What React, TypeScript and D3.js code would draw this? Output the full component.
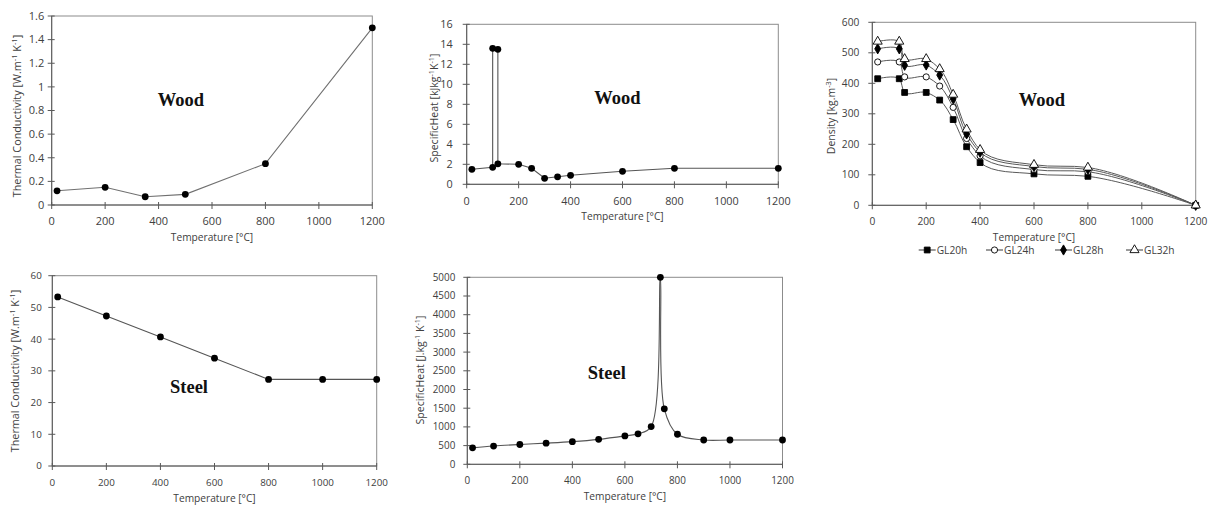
import React from 'react';
import * as d3 from 'd3';

// ---------- DATA ----------
const tempTicks = [0, 200, 400, 600, 800, 1000, 1200];

const woodKTemp = [20, 200, 350, 500, 800, 1200];
const woodKValue = [0.12, 0.15, 0.07, 0.09, 0.35, 1.5];
const woodKTicks = [0, 0.2, 0.4, 0.6, 0.8, 1, 1.2, 1.4, 1.6];

const woodCpTemp = [20, 100, 100, 120, 120, 200, 250, 300, 350, 400, 600, 800, 1200];
const woodCpValue = [1.5, 1.7, 13.6, 13.5, 2.05, 2.0, 1.6, 0.6, 0.75, 0.9, 1.3, 1.6, 1.6];
const woodCpTicks = [0, 2, 4, 6, 8, 10, 12, 14, 16];

const densityTemp = [20, 100, 120, 200, 250, 300, 350, 400, 600, 800, 1200];
const densityGL20h = [415, 415, 370, 370, 345, 281, 192, 140, 103, 95, 0];
const densityGL24h = [470, 470, 421, 421, 391, 321, 219, 162, 117, 110, 0];
const densityGL28h = [513, 513, 459, 460, 427, 349, 234, 174, 127, 118, 0];
const densityGL32h = [537, 537, 480, 480, 447, 363, 249, 182, 133, 124, 0];
const densityNames = ['GL20h', 'GL24h', 'GL28h', 'GL32h'];
const densityTicks = [0, 100, 200, 300, 400, 500, 600];

const steelKTemp = [20, 200, 400, 600, 800, 1000, 1200];
const steelKValue = [53.3, 47.3, 40.7, 34.0, 27.3, 27.3, 27.3];
const steelKTicks = [0, 10, 20, 30, 40, 50, 60];

const steelCpTemp = [20, 100, 200, 300, 400, 500, 600, 650, 700, 735, 750, 800, 900, 1000, 1200];
const steelCpValue = [440, 488, 530, 565, 606, 667, 760, 815, 1008, 5000, 1483, 803, 650, 650, 650];
const steelCpTicks = [0, 500, 1000, 1500, 2000, 2500, 3000, 3500, 4000, 4500, 5000];

// ---------- HELPERS ----------
const FONT = "'Open Sans', sans-serif";
const TXT = '#404040';

type Seg = { t: string; sup?: boolean };

function RotLabel({ x, y, segs, size }: { x: number; y: number; segs: Seg[]; size: number }) {
  const out: any[] = [];
  let up = false;
  segs.forEach((s, i) => {
    let dy = 0;
    if (s.sup && !up) { dy = -size * 0.38; up = true; }
    else if (!s.sup && up) { dy = size * 0.38; up = false; }
    out.push(
      <tspan key={i} dy={dy || undefined} fontSize={s.sup ? size * 0.7 : size}>{s.t}</tspan>
    );
  });
  return (
    <text transform={`translate(${x},${y}) rotate(-90)`} textAnchor="middle" dy="0.35em"
      fontFamily={FONT} fontSize={size} fill={TXT}>{out}</text>
  );
}

type Box = { x0: number; x1: number; y0: number; y1: number };

function Frame({ box, x, y, yTicks, tickSize, yGap, fmt }: any) {
  return (
    <g>
      <rect x={box.x0} y={box.y0} width={box.x1 - box.x0} height={box.y1 - box.y0}
        fill="none" stroke="#8c8c8c" strokeWidth={1} />
      <line x1={box.x0} x2={box.x0} y1={box.y0} y2={box.y1} stroke="#595959" />
      <line x1={box.x0} x2={box.x1} y1={box.y1} y2={box.y1} stroke="#595959" />
      {yTicks.map((t: number) => (
        <g key={'y' + t}>
          <line x1={box.x0 - 4} x2={box.x0 + 3} y1={y(t)} y2={y(t)} stroke="#595959" />
          <text x={box.x0 - yGap} y={y(t)} dy="0.35em" textAnchor="end" fontFamily={FONT}
            fontSize={tickSize} fill={TXT}>{fmt ? fmt(t) : String(t)}</text>
        </g>
      ))}
      {tempTicks.map((t) => (
        <g key={'x' + t}>
          <line x1={x(t)} x2={x(t)} y1={box.y1 - 3} y2={box.y1 + 4} stroke="#595959" />
          <text x={x(t)} y={box.y1 + 16.5} dy="0.35em" textAnchor="middle" fontFamily={FONT}
            fontSize={tickSize} fill={TXT}>{t}</text>
        </g>
      ))}
      <text x={(box.x0 + box.x1) / 2} y={box.y1 + 32} dy="0.35em" textAnchor="middle"
        fontFamily={FONT} fontSize={10.2} fill={TXT}>Temperature [°C]</text>
    </g>
  );
}

function Material({ x, y, text }: { x: number; y: number; text: string }) {
  return (
    <text x={x} y={y} textAnchor="middle" fontFamily="'Liberation Serif', 'Times New Roman', serif"
      fontWeight="bold" fontSize={18.5} fill="#111">{text}</text>
  );
}

function SimplePanel({ box, xs, ys, yDomain, yTicks, tickSize, yGap, fmt, curve, lineColor,
  ylab, ylabX, ylabY, ylabSize, mat, matX, matY }: any) {
  const x = d3.scaleLinear().domain([0, 1200]).range([box.x0, box.x1]);
  const y = d3.scaleLinear().domain(yDomain).range([box.y1, box.y0]);
  const pts: [number, number][] = xs.map((v: number, i: number) => [v, ys[i]]);
  const line = d3.line<[number, number]>().x((d) => x(d[0])).y((d) => y(d[1]));
  if (curve) line.curve(curve);
  return (
    <g>
      <Frame box={box} x={x} y={y} yTicks={yTicks} tickSize={tickSize} yGap={yGap} fmt={fmt} />
      <path d={line(pts) || ''} fill="none" stroke={lineColor} strokeWidth={1.1} />
      {pts.map((p, i) => (
        <circle key={i} cx={x(p[0])} cy={y(p[1])} r={3.4} fill="#000" />
      ))}
      <RotLabel x={ylabX} y={ylabY} segs={ylab} size={ylabSize} />
      <Material x={matX} y={matY} text={mat} />
    </g>
  );
}

function DensityPanel() {
  const box: Box = { x0: 872.3, x1: 1195.7, y0: 22.3, y1: 205.3 };
  const x = d3.scaleLinear().domain([0, 1200]).range([box.x0, box.x1]);
  const y = d3.scaleLinear().domain([0, 600]).range([box.y1, box.y0]);
  const series = [densityGL20h, densityGL24h, densityGL28h, densityGL32h];
  const symbols = [d3.symbolSquare, d3.symbolCircle, d3.symbolDiamond, d3.symbolTriangle];
  const sizes = [34, 30, 30, 36];
  const fills = ['#000', '#fff', '#000', '#fff'];
  const line = d3.line<[number, number]>().x((d) => x(d[0])).y((d) => y(d[1]))
    .curve(d3.curveCatmullRom.alpha(1));
  const legendX = [918.7, 986, 1055, 1126];
  const legendY = 250;
  return (
    <g>
      <Frame box={box} x={x} y={y} yTicks={densityTicks} tickSize={10.2} yGap={13} />
      {series.map((s, si) => {
        const pts: [number, number][] = densityTemp.map((t, i) => [t, s[i]]);
        return <path key={'l' + si} d={line(pts) || ''} fill="none" stroke="#595959" strokeWidth={1} />;
      })}
      {series.map((s, si) => {
        const sym = d3.symbol(symbols[si], sizes[si])();
        return (
          <g key={'m' + si}>
            {densityTemp.map((t, i) => (
              <path key={i} d={sym || ''} transform={`translate(${x(t)},${y(s[i])})`}
                fill={fills[si]} stroke="#000" strokeWidth={0.9} />
            ))}
          </g>
        );
      })}
      <RotLabel x={831.7} y={116} segs={[{ t: 'Density [kg.m' }, { t: '-3', sup: true }, { t: ']' }]} size={10.5} />
      <Material x={1041.8} y={106} text="Wood" />
      {densityNames.map((n, si) => {
        const sym = d3.symbol(symbols[si], sizes[si])();
        const lx = legendX[si];
        return (
          <g key={n}>
            <line x1={lx} x2={lx + 17} y1={legendY} y2={legendY} stroke="#595959" strokeWidth={1.2} />
            <path d={sym || ''} transform={`translate(${lx + 8.5},${legendY})`} fill={fills[si]}
              stroke="#000" strokeWidth={0.9} />
            <text x={lx + 18} y={legendY} dy="0.35em" fontFamily={FONT} fontSize={10.2} fill={TXT}>{n}</text>
          </g>
        );
      })}
    </g>
  );
}

export default function App() {
  const kLabel: Seg[] = [
    { t: 'Thermal Conductivity  [W.m' }, { t: '-1', sup: true }, { t: ' K' }, { t: '-1', sup: true }, { t: ']' },
  ];
  return (
    <svg width={1211} height={507} style={{ position: 'absolute', left: 0, top: 0, background: '#fff' }}>
      <SimplePanel box={{ x0: 51.7, x1: 372.3, y0: 16, y1: 205 }} xs={woodKTemp} ys={woodKValue}
        yDomain={[0, 1.6]} yTicks={woodKTicks} tickSize={11} yGap={7.5}
        fmt={(v: number) => String(+v.toFixed(1))} lineColor="#707070"
        ylab={kLabel} ylabX={17} ylabY={116} ylabSize={10.8} mat="Wood" matX={181} matY={106} />
      <SimplePanel box={{ x0: 466.7, x1: 778.3, y0: 24.3, y1: 184.3 }} xs={woodCpTemp} ys={woodCpValue}
        yDomain={[0, 16]} yTicks={woodCpTicks} tickSize={10.8} yGap={14} lineColor="#555"
        ylab={[{ t: 'SpecificHeat [kJkg' }, { t: '-1', sup: true }, { t: 'K' }, { t: '-1', sup: true }, { t: ']' }]}
        ylabX={434} ylabY={108} ylabSize={10.5} mat="Wood" matX={617.5} matY={104} />
      <DensityPanel />
      <SimplePanel box={{ x0: 52.3, x1: 376.7, y0: 275.7, y1: 466 }} xs={steelKTemp} ys={steelKValue}
        yDomain={[0, 60]} yTicks={steelKTicks} tickSize={9.8} yGap={10.5} lineColor="#555"
        ylab={kLabel} ylabX={15} ylabY={371} ylabSize={10.8} mat="Steel" matX={189} matY={393} />
      <SimplePanel box={{ x0: 467.3, x1: 782.5, y0: 277.3, y1: 464.3 }} xs={steelCpTemp} ys={steelCpValue}
        yDomain={[0, 5000]} yTicks={steelCpTicks} tickSize={9.9} yGap={12} lineColor="#555"
        curve={d3.curveCatmullRom.alpha(0.5)}
        ylab={[{ t: 'SpecificHeat [J.kg' }, { t: '-1', sup: true }, { t: ' K' }, { t: '-1', sup: true }, { t: ']' }]}
        ylabX={420} ylabY={370} ylabSize={10.5} mat="Steel" matX={606.8} matY={379} />
    </svg>
  );
}
